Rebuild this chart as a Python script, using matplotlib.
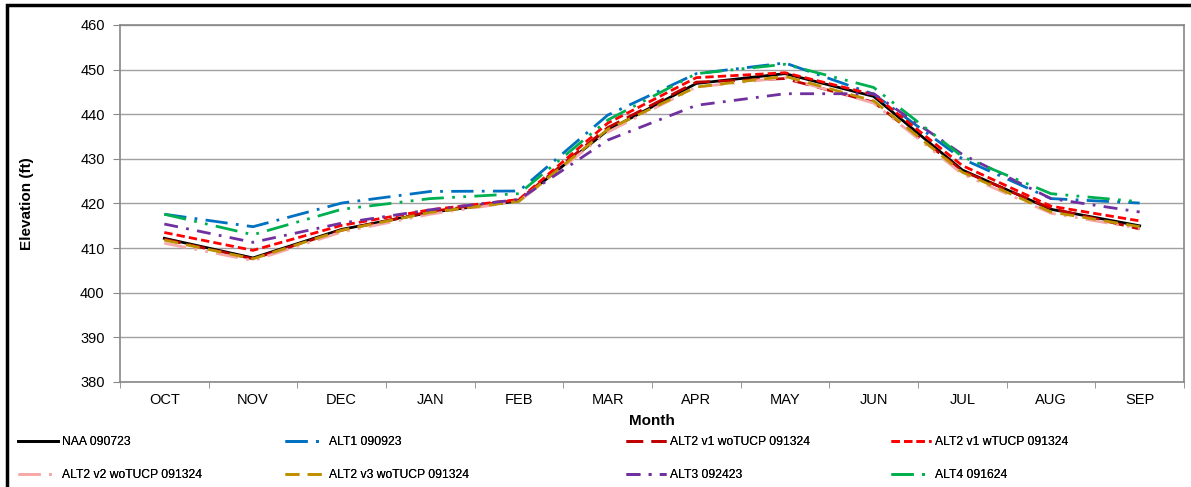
import matplotlib
matplotlib.use('Agg')
import matplotlib.pyplot as plt
from matplotlib.patches import Rectangle

plt.rcParams['font.family'] = ['Liberation Sans', 'DejaVu Sans']

months = ['OCT', 'NOV', 'DEC', 'JAN', 'FEB', 'MAR', 'APR', 'MAY', 'JUN', 'JUL', 'AUG', 'SEP']

naa = [412.2, 407.8, 414.2, 418.0, 420.6, 436.4, 446.9, 449.1, 444.0, 427.5, 418.7, 415.0]
alt1 = [417.6, 414.8, 420.1, 422.7, 422.8, 439.8, 449.1, 451.5, 444.5, 430.0, 421.1, 420.1]
alt2_v1_wo = [412.0, 407.6, 414.0, 418.2, 420.8, 437.0, 447.2, 448.0, 442.7, 427.3, 418.9, 414.3]
alt2_v1_w = [413.5, 409.5, 415.1, 418.6, 420.9, 438.0, 448.2, 449.3, 444.4, 428.5, 419.4, 416.1]
alt2_v2_wo = [411.1, 407.2, 413.6, 417.6, 420.5, 436.0, 446.1, 448.2, 442.5, 426.6, 417.8, 414.4]
alt2_v3_wo = [411.8, 407.6, 414.0, 418.0, 420.5, 436.6, 446.1, 448.5, 443.0, 427.0, 418.1, 414.8]
alt3 = [415.4, 411.3, 415.6, 418.6, 420.9, 434.2, 442.0, 444.6, 444.6, 431.0, 421.1, 418.1]
alt4 = [417.6, 413.0, 418.7, 421.1, 422.2, 438.7, 449.1, 451.2, 446.0, 430.5, 422.2, 420.4]

series = [
    ('NAA 090723', naa, '#000000', '-'),
    ('ALT1 090923', alt1, '#0070C0', (0, (8, 3, 1, 3))),
    ('ALT2 v1 woTUCP 091324', alt2_v1_wo, '#C00000', (0, (6, 3))),
    ('ALT2 v1 wTUCP 091324', alt2_v1_w, '#FF0000', (0, (3, 1.5))),
    ('ALT2 v2 woTUCP 091324', alt2_v2_wo, '#F7A8A8', (0, (8, 3, 1, 3, 1, 3))),
    ('ALT2 v3 woTUCP 091324', alt2_v3_wo, '#BF9000', (0, (5, 3))),
    ('ALT3 092423', alt3, '#7030A0', (0, (5, 3, 1, 3))),
    ('ALT4 091624', alt4, '#00B050', (0, (8, 3, 1, 3, 1, 3))),
]

W, H = 1191, 487
fig = plt.figure(figsize=(W / 100, H / 100), dpi=100)
ax = fig.add_axes([120 / W, 1 - 382 / H, (1184 - 120) / W, (382 - 25) / H])

x = list(range(len(months)))
lines = []
for name, vals, col, ls in series:
    ln, = ax.plot(x, vals, color=col, linestyle=ls, linewidth=2, label=name)
    lines.append(ln)

ax.set_xlim(-0.5, len(months) - 0.5)
ax.set_ylim(380, 460)
ax.set_yticks(range(380, 461, 10))
ax.set_xticks(x)
ax.set_xticklabels(months)
ax.set_xticks([i - 0.5 for i in range(len(months) + 1)], minor=True)
ax.tick_params(axis='x', which='major', length=0, pad=8, labelsize=10.5)
ax.tick_params(axis='x', which='minor', length=4, color='#888888', direction='out')
ax.tick_params(axis='y', length=5, color='#888888', labelsize=10.5, pad=6)
ax.grid(axis='y', color='#A0A0A0', linewidth=1)
ax.set_axisbelow(True)
for s in ax.spines.values():
    s.set_color('#888888')
    s.set_linewidth(1.2)

ax.set_xlabel('Month', fontsize=11, fontweight='bold', labelpad=5)
ax.set_ylabel('Elevation (ft)', fontsize=11, fontweight='bold', labelpad=33)

# legend: 4 columns, 2 rows, placed like the original
col_x = [18, 285, 626, 891]
for i, cx in enumerate(col_x):
    hs = [lines[i], lines[i + 4]]
    leg = fig.legend(hs, [h.get_label() for h in hs], loc='upper left',
                     bbox_to_anchor=(cx / W, 1 - 436 / H), frameon=False, fontsize=8.7,
                     handlelength=3.3, handletextpad=0.35, labelspacing=1.75,
                     borderaxespad=0, borderpad=0)
    fig.add_artist(leg)

# outer frame of the original screenshot
fig.patches.append(Rectangle((7 / W, -0.1), 1.2, 0.1 + 1 - 5 / H, transform=fig.transFigure,
                             fill=False, edgecolor='black', linewidth=2.5))

fig.savefig('out.png', dpi=100)
